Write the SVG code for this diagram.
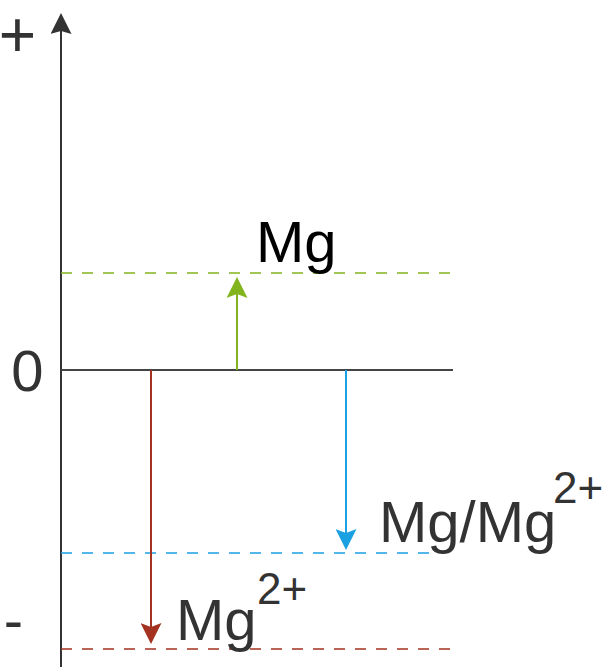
<svg xmlns="http://www.w3.org/2000/svg" width="607" height="667" viewBox="0 0 607 667">
<style>
text{font-family:"Liberation Sans",Arial,Helvetica,sans-serif;fill:#333}
.big{font-size:58px}
.sup{font-size:44px}
.ln{fill:none;stroke-width:2}
.dash{fill:none;stroke-width:1.5;stroke-dasharray:11 10}
</style>
<defs>
<marker id="ah-dark" markerUnits="userSpaceOnUse" viewBox="0 0 21 21" refX="4" refY="10.5" markerWidth="21" markerHeight="21" orient="auto"><path d="M0,0 L21,10.5 L0,21 L3,10.5 Z" fill="#333"/></marker>
<marker id="ah-green" markerUnits="userSpaceOnUse" viewBox="0 0 21 21" refX="4" refY="10.5" markerWidth="21" markerHeight="21" orient="auto"><path d="M0,0 L21,10.5 L0,21 L4,10.5 Z" fill="#82b41e"/></marker>
<marker id="ah-blue" markerUnits="userSpaceOnUse" viewBox="0 0 21 21" refX="4" refY="10.5" markerWidth="21" markerHeight="21" orient="auto"><path d="M0,0 L21,10.5 L0,21 L4,10.5 Z" fill="#1ba1e2"/></marker>
<marker id="ah-red" markerUnits="userSpaceOnUse" viewBox="0 0 21 21" refX="4" refY="10.5" markerWidth="21" markerHeight="21" orient="auto"><path d="M0,0 L21,10.5 L0,21 L4,10.5 Z" fill="#a33220"/></marker>
</defs>
<g id="connectors">
<line id="axis" class="ln" x1="61" y1="667" x2="61" y2="30" stroke="#333" marker-end="url(#ah-dark)"/>
<line id="zero-line" class="ln" x1="61" y1="370" x2="453" y2="370" stroke="#444"/>
<line id="mg-level" class="dash" x1="61" y1="273" x2="455" y2="273" stroke="#82b41e"/>
<line id="mgmg-level" class="dash" x1="61" y1="553" x2="430" y2="553" stroke="#1ba1e2"/>
<line id="mg2-level" class="dash" x1="61" y1="649" x2="455" y2="649" stroke="#a33220"/>
<line id="green-arrow" class="ln" x1="237" y1="370" x2="237" y2="294" stroke="#82b41e" marker-end="url(#ah-green)"/>
<line id="blue-arrow" class="ln" x1="346" y1="370" x2="346" y2="533" stroke="#1ba1e2" marker-end="url(#ah-blue)"/>
<line id="red-arrow" class="ln" x1="151" y1="370" x2="151" y2="627" stroke="#a33220" marker-end="url(#ah-red)"/>
</g>
<g id="label-plus"><text x="17.5" y="57" text-anchor="middle" style="font-size:64px">+</text></g>
<g id="label-zero"><text class="big" x="27.5" y="391" text-anchor="middle">0</text></g>
<g id="label-minus"><text class="big" x="13.5" y="640" text-anchor="middle">-</text></g>
<g id="label-mg"><text class="big" x="256" y="262" style="fill:#000">Mg</text></g>
<g id="label-mgmg"><text class="big" x="379" y="542">Mg/Mg</text><text class="sup" x="553" y="503">2+</text></g>
<g id="label-mg2"><text class="big" x="176" y="640">Mg</text><text class="sup" x="257" y="604">2+</text></g>
</svg>
